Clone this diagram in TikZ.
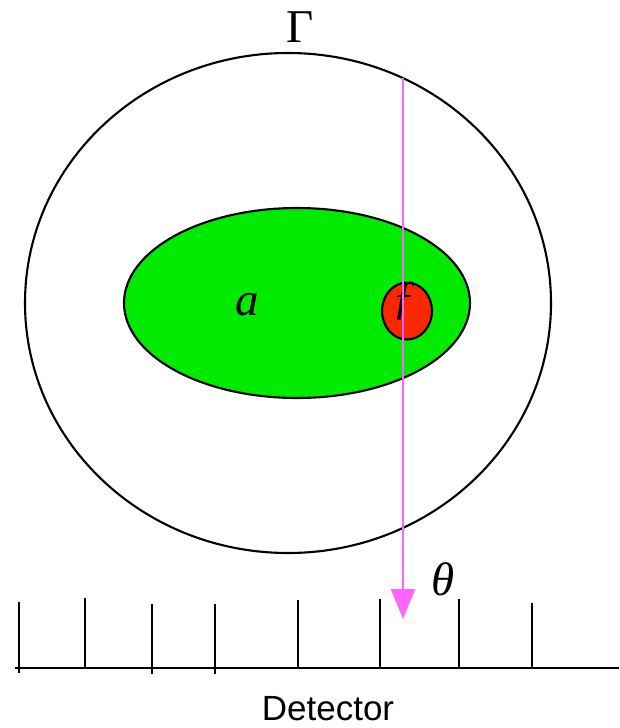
\documentclass[tikz,border=0pt]{standalone}
\usepackage{fontspec}
\newfontfamily\detfont{Liberation Sans}
\newfontfamily\symfont{Liberation Serif}
\usepackage{tikz}
\usetikzlibrary{positioning, shapes.geometric, arrows.meta, calc}

\definecolor{raypink}{RGB}{255,100,255}
\definecolor{objgreen}{RGB}{0,235,0}
\definecolor{spotred}{RGB}{250,40,0}

\begin{document}
\begin{tikzpicture}[x=1pt, y=-1pt,
                region/.style={draw=black, line width=2.1pt, ellipse, inner sep=0pt},
                ray/.style={draw=raypink, line width=2.8pt, -{Triangle[width=24pt, length=30pt]}},
                pixel/.style={line width=2.8pt},
                symlabel/.style={font=\symfont\fontsize{47}{47}\selectfont, anchor=base, inner sep=0pt},
                detlabel/.style={font=\detfont\fontsize{35}{35}\selectfont, anchor=base, inner sep=0pt}
            ]
            \useasboundingbox (0,0) rectangle (619,728);

            % Gebiete
            \node[region, minimum width=526pt, minimum height=500pt] (gamma) at (288,303) {};
            \node[region, fill=objgreen, minimum width=346pt, minimum height=190pt] (obj) at (297,303) {};
            \node[region, fill=spotred, minimum width=50pt, minimum height=57pt] (spot) at (407,311) {};

            % Beschriftungen
            \node[symlabel] (gammalab) at (300,42) {Γ};
            \node[symlabel] (alab) at (247,315) {\itshape a};
            \node[symlabel] (flab) at (404,313) {\itshape ƒ};
            \node[symlabel] (thetalab) at (443,595) {\itshape θ};
            \node[detlabel] (detlab) at (328,720) {Detector};

            % Strahl
            \coordinate (raystart) at (403,78);
            \coordinate (rayend) at (403,619);
            \draw[ray] (raystart) -- (rayend);

            % Detektor
            \coordinate (detleft) at (15,668);
            \coordinate (detright) at (619,668);
            \draw[pixel] (detleft) -- (detright);
            \foreach \px/\top/\bot in {19/602/673, 85/598/668, 152/604/674, 215/604/674, 298/600/668, 380/599/668, 459/599/668, 532/603/668}
                \draw[pixel] (\px,\top) -- (\px,\bot);

        \end{tikzpicture}
\end{document}
